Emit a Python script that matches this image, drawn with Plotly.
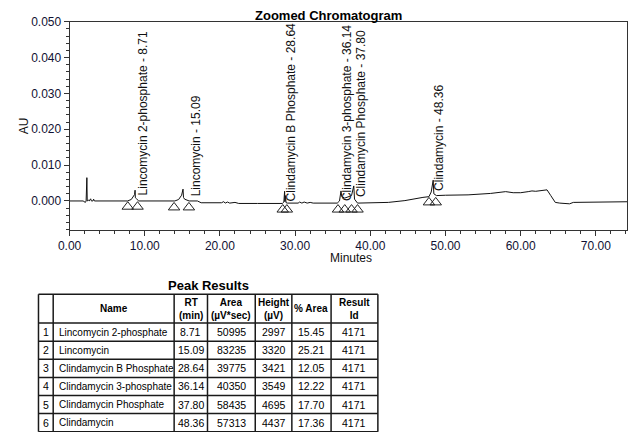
import plotly.graph_objects as go

# ---------------- data ----------------
TIME = [0.0, 1.8, 2.1, 2.2, 2.3, 2.35, 2.5, 2.6, 2.8, 2.9, 3.1, 3.2, 3.3,
        7.7, 8.2, 8.5, 8.65, 8.71, 8.75, 8.9, 9.2,
        14.0, 14.5, 14.9, 15.05, 15.09, 15.15, 15.3, 15.9,
        17.0, 17.5, 20.2, 20.5, 20.7, 21.0, 21.3, 22.0, 22.5, 25.0,
        28.3, 28.5, 28.6, 28.64, 28.7, 28.8, 29.0,
        30.4, 30.6, 30.9, 31.2, 31.6, 32.0, 32.4,
        35.6, 35.9, 36.1, 36.2, 36.6, 37.5, 37.8, 37.9, 38.3,
        42.4, 44.6, 47.0, 47.8, 48.1, 48.36, 48.45, 48.8,
        50.0, 53.0, 56.0, 57.5, 58.0, 59.0, 60.0, 61.0, 61.5, 62.0, 62.5, 63.0, 63.5,
        64.0, 64.6, 65.2, 66.0, 66.5, 67.0, 70.0, 71.5, 72.5, 75.0]
AU = [0.0, 0.0, -0.0004, 0.0, 0.0065, 0.0, 0.0002, 0.0, 0.0006, 0.0, 0.0, 0.0005, 0.0,
      0.0, 0.0004, 0.0012, 0.0018, 0.0030, 0.0009, 0.0006, 0.0,
      0.0, 0.0004, 0.0016, 0.0028, 0.0033, 0.0010, 0.0005, 0.0,
      0.0, -0.0005, -0.0005, -0.0002, -0.0006, -0.0003, -0.0006, -0.0004, -0.0007, -0.0007,
      -0.0007, -0.0003, 0.0027, -0.0002, 0.0015, -0.0005, -0.0006,
      -0.0006, -0.0003, -0.0006, -0.0003, -0.0006, -0.0004, -0.0006,
      -0.0006, 0.0, 0.0028, 0.0012, 0.0008, 0.0015, 0.0042, 0.0005, -0.0006,
      -0.0004, 0.0001, 0.0010, 0.0012, 0.0025, 0.0058, 0.0020, 0.0015,
      0.0016, 0.0017, 0.0021, 0.0025, 0.0026, 0.0023, 0.0023, 0.0026, 0.0028, 0.0027, 0.0029, 0.0031, 0.0031,
      0.0015, -0.0004, -0.0006, -0.0007, -0.0008, -0.0004, -0.0003, -0.0001, -0.0002, -0.0002]

# peak start / end markers
MARK_TIME = [7.74, 9.04, 13.9, 15.87, 28.35, 28.9, 35.7, 36.6, 37.5, 38.3, 47.8, 48.7]
MARK_AU = [-0.0016, -0.0016, -0.0018, -0.0018, -0.0024, -0.0024,
           -0.0024, -0.0024, -0.0024, -0.0024, -0.0004, -0.0004]

PEAK_NAMES = ["Lincomycin 2-phosphate", "Lincomycin", "Clindamycin B Phosphate",
              "Clindamycin 3-phosphate", "Clindamycin Phosphate", "Clindamycin"]
PEAK_RT = [8.71, 15.09, 28.64, 36.14, 37.80, 48.36]
PEAK_AREA = [50995, 83235, 39775, 40350, 58435, 57313]
PEAK_HEIGHT = [2997, 3320, 3421, 3549, 4695, 4437]
PEAK_PCT_AREA = [15.45, 25.21, 12.05, 12.22, 17.70, 17.36]
RESULT_ID = [4171, 4171, 4171, 4171, 4171, 4171]
TABLE_HEADERS = ["", "Name", "RT<br>(min)", "Area<br>(µV*sec)", "Height<br>(µV)",
                 "% Area", "Result<br>Id"]
X_TICKS = [0, 10, 20, 30, 40, 50, 60, 70]
Y_TICKS = [0.0, 0.01, 0.02, 0.03, 0.04, 0.05]

# ---------------- style / layout ----------------
LABEL_XSHIFT = [8, 13, 7, 5, 8, 6]
LABEL_BASE = [0.0010, 0.0006, -0.0007, -0.0005, 0.0006, 0.0023]

FONT = "Liberation Sans, Arial, sans-serif"
PAGE_OFF = 8                      # page offset of the figure inside the window
W, H = 644 - 2 * PAGE_OFF, 448 - 2 * PAGE_OFF
COL_EDGES = [35, 50, 173.3, 207.3, 256, 293.3, 333.3, 381]
TABLE_TOP, HEADER_BOTTOM, ROW_H = 300, 329.3, 18.4
PLOT_L, PLOT_R, PLOT_T, PLOT_B = 66.7, 635, 23, 234.3
PX_PER_MIN = 7.665


def px(x):
    return (x - PAGE_OFF) / W


def py(y):
    return 1 - (y - PAGE_OFF) / H


fig = go.Figure()
fig.add_trace(go.Scatter(x=TIME, y=AU, mode="lines",
                         line=dict(color="#111111", width=1), hoverinfo="skip",
                         showlegend=False))
fig.add_trace(go.Scatter(x=MARK_TIME, y=MARK_AU, mode="markers",
                         marker=dict(symbol="triangle-up-open", size=10,
                                     color="#222222", line=dict(width=1)),
                         hoverinfo="skip", showlegend=False))

annotations = []
for name, rt, xs, yb in zip(PEAK_NAMES, PEAK_RT, LABEL_XSHIFT, LABEL_BASE):
    annotations.append(dict(x=rt, y=yb, xref="x", yref="y", xshift=xs,
                            text=f"{name} - {rt:.2f}", textangle=-90,
                            showarrow=False, xanchor="center", yanchor="bottom",
                            font=dict(family=FONT, size=12, color="#111111")))

annotations += [
    dict(x=px(330.5), y=1, xref="paper", yref="paper", text="<b>Zoomed Chromatogram</b>",
         showarrow=False, xanchor="center", yanchor="top", borderpad=0,
         font=dict(family=FONT, size=13, color="#000000")),
    dict(x=px(20), y=py(128.5), xref="paper", yref="paper", text="AU", textangle=-90,
         showarrow=False, xanchor="center", yanchor="middle",
         font=dict(family=FONT, size=12, color="#111111")),
    dict(x=px(354), y=py(263), xref="paper", yref="paper", text="Minutes",
         showarrow=False, xanchor="center", yanchor="middle",
         font=dict(family=FONT, size=12, color="#111111")),
    dict(x=px(208), y=py(291), xref="paper", yref="paper", text="<b>Peak Results</b>",
         showarrow=False, xanchor="center", yanchor="middle",
         font=dict(family=FONT, size=13, color="#000000")),
]

# ---------------- table (drawn with shapes + text) ----------------
n_rows = len(PEAK_NAMES)
row_edges = [TABLE_TOP, HEADER_BOTTOM] + [HEADER_BOTTOM + ROW_H * (i + 1) for i in range(n_rows)]
table_bottom = row_edges[-1]
shapes = []
LINE = dict(color="#1a1a1a", width=1.5)
for xe in COL_EDGES:
    shapes.append(dict(type="line", xref="paper", yref="paper", x0=px(xe), x1=px(xe),
                       y0=py(TABLE_TOP), y1=py(table_bottom), line=LINE))
for ye in row_edges:
    shapes.append(dict(type="line", xref="paper", yref="paper", x0=px(COL_EDGES[0]),
                       x1=px(COL_EDGES[-1]), y0=py(ye), y1=py(ye), line=LINE))

columns = [[str(i + 1) for i in range(n_rows)], PEAK_NAMES,
           [f"{v:.2f}" for v in PEAK_RT], [str(v) for v in PEAK_AREA],
           [str(v) for v in PEAK_HEIGHT], [f"{v:.2f}" for v in PEAK_PCT_AREA],
           [str(v) for v in RESULT_ID]]
for c, head in enumerate(TABLE_HEADERS):
    xl, xr = COL_EDGES[c], COL_EDGES[c + 1]
    xc = (xl + xr) / 2
    if head:
        annotations.append(dict(x=px(xc), y=py((TABLE_TOP + HEADER_BOTTOM) / 2),
                                xref="paper", yref="paper", text=f"<b>{head}</b>",
                                showarrow=False, xanchor="center", yanchor="middle",
                                font=dict(family=FONT, size=10, color="#000000")))
    for r, val in enumerate(columns[c]):
        yc = (row_edges[r + 1] + row_edges[r + 2]) / 2
        if c == 1:
            annotations.append(dict(x=px(xl + 4), y=py(yc), xref="paper", yref="paper",
                                    text=val, showarrow=False, xanchor="left",
                                    yanchor="middle",
                                    font=dict(family=FONT, size=10, color="#000000")))
        else:
            annotations.append(dict(x=px(xc), y=py(yc), xref="paper", yref="paper",
                                    text=val, showarrow=False, xanchor="center",
                                    yanchor="middle",
                                    font=dict(family=FONT, size=10.5, color="#000000")))

axis_common = dict(showline=True, linecolor="#333333", linewidth=1, mirror=True,
                   ticks="outside", ticklen=5, tickcolor="#333333", showgrid=False,
                   zeroline=False, tickfont=dict(family=FONT, size=12, color="#111133"))
fig.update_layout(
    width=W, height=H, margin=dict(l=0, r=0, t=0, b=0),
    paper_bgcolor="white", plot_bgcolor="white",
    xaxis=dict(domain=[px(PLOT_L), px(PLOT_R)],
               range=[0, (PLOT_R - PLOT_L) / PX_PER_MIN], tickvals=X_TICKS,
               tickformat=".2f", minor=dict(dtick=2, ticklen=3, ticks="outside",
                                             tickcolor="#333333"),
               **axis_common),
    yaxis=dict(domain=[py(PLOT_B), py(PLOT_T)], range=[-0.008, 0.050], tickvals=Y_TICKS,
               tickformat=".3f", minor=dict(dtick=0.002, ticklen=3, ticks="outside",
                                             tickcolor="#333333"),
               **axis_common),
    annotations=annotations,
    shapes=shapes,
)

fig.write_html("out.html")
